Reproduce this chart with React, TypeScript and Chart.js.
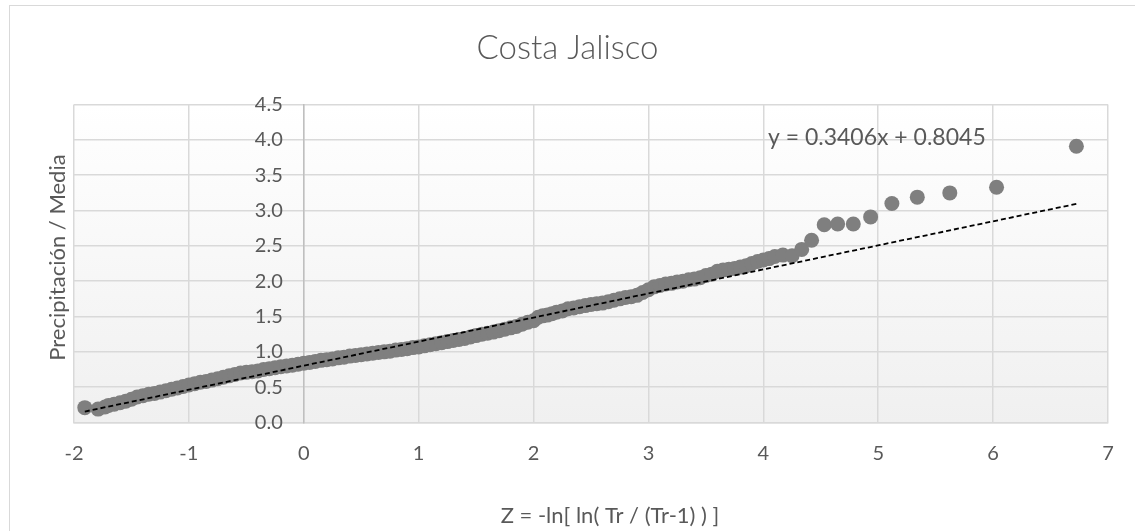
import React, { useEffect, useRef } from "react";
import { Chart, registerables } from "chart.js";

Chart.register(...registerables);

// Gumbel reduced variate (Z) and normalised precipitation (P / mean), sorted ascending
const zValues = [
  -1.906, -1.79, -1.73, -1.7, -1.65, -1.6, -1.55, -1.5, -1.45, -1.4,
  -1.35, -1.3, -1.25, -1.2, -1.15, -1.1, -1.05, -1.0, -0.95, -0.9,
  -0.85, -0.8, -0.75, -0.7, -0.65, -0.6, -0.55, -0.5, -0.45, -0.4,
  -0.35, -0.3, -0.25, -0.2, -0.15, -0.1, -0.05, 0.0, 0.05, 0.1,
  0.15, 0.2, 0.25, 0.3, 0.35, 0.4, 0.45, 0.5, 0.55, 0.6,
  0.65, 0.7, 0.75, 0.8, 0.85, 0.9, 0.95, 1.0, 1.05, 1.1,
  1.15, 1.2, 1.25, 1.3, 1.35, 1.4, 1.45, 1.5, 1.55, 1.6,
  1.65, 1.7, 1.75, 1.8, 1.85, 1.9, 1.95, 2.0, 2.04, 2.08,
  2.12, 2.16, 2.2, 2.25, 2.3, 2.35, 2.4, 2.45, 2.5, 2.55,
  2.6, 2.65, 2.7, 2.75, 2.8, 2.85, 2.9, 2.95, 3.0, 3.05,
  3.1, 3.15, 3.2, 3.25, 3.3, 3.35, 3.4, 3.45, 3.5, 3.55,
  3.6, 3.65, 3.7, 3.75, 3.8, 3.85, 3.9, 3.95, 4.0, 4.05,
  4.1, 4.17, 4.25, 4.334, 4.42, 4.53, 4.647, 4.783, 4.934, 5.119,
  5.34, 5.623, 6.03, 6.725,
];

const ratioValues = [
  0.21, 0.19, 0.22, 0.24, 0.26, 0.28, 0.3, 0.33, 0.36, 0.38,
  0.4, 0.41, 0.43, 0.45, 0.47, 0.49, 0.51, 0.53, 0.55, 0.57,
  0.58, 0.6, 0.62, 0.64, 0.66, 0.68, 0.7, 0.71, 0.72, 0.73,
  0.75, 0.76, 0.775, 0.79, 0.8, 0.81, 0.825, 0.84, 0.85, 0.865,
  0.88, 0.89, 0.9, 0.915, 0.925, 0.94, 0.95, 0.96, 0.97, 0.98,
  0.99, 1.0, 1.01, 1.025, 1.035, 1.045, 1.06, 1.07, 1.085, 1.1,
  1.115, 1.13, 1.145, 1.16, 1.175, 1.19, 1.21, 1.23, 1.25, 1.265,
  1.28, 1.3, 1.32, 1.34, 1.36, 1.39, 1.42, 1.44, 1.49, 1.51,
  1.52, 1.54, 1.56, 1.58, 1.61, 1.62, 1.64, 1.655, 1.67, 1.68,
  1.69, 1.71, 1.73, 1.75, 1.77, 1.78, 1.8, 1.84, 1.88, 1.92,
  1.94, 1.96, 1.97, 1.99, 2.0, 2.02, 2.03, 2.05, 2.08, 2.1,
  2.14, 2.16, 2.17, 2.18, 2.2, 2.22, 2.25, 2.28, 2.3, 2.32,
  2.35, 2.37, 2.36, 2.45, 2.58, 2.8, 2.81, 2.81, 2.91, 3.1,
  3.19, 3.25, 3.33, 3.91,
];

// Linear trendline fitted to the points
const trendSlope = 0.3406;
const trendIntercept = 0.8045;

const chartTitle = "Costa Jalisco";
const xAxisTitle = "Z = -ln[ ln( Tr / (Tr-1) ) ]";
const yAxisTitle = "Precipitación / Media";

const xTickRange = [-2, 7];
const yTickRange = [0, 4.5];
const yTickStep = 0.5;

const FONT = "Lato, 'Open Sans', 'DejaVu Sans', sans-serif";
const TEXT = "#595959";
const MARKER = "#7f7f7f";
const GRID = "#d9d9d9";

const W = 1135;
const H = 531;
const Y_LABEL_GAP = 21;

// White page, soft vertical gradient inside the plot area and the outer frame
const framePlugin = {
  id: "frame",
  beforeDraw(chart: any) {
    const { ctx, chartArea: a } = chart;
    ctx.save();
    ctx.fillStyle = "#ffffff";
    ctx.fillRect(0, 0, W, H);
    const g = ctx.createLinearGradient(0, a.top, 0, a.bottom);
    g.addColorStop(0, "#ffffff");
    g.addColorStop(1, "#f0f0f0");
    ctx.fillStyle = g;
    ctx.fillRect(a.left, a.top, a.right - a.left, a.bottom - a.top);
    ctx.strokeStyle = GRID;
    ctx.lineWidth = 1;
    ctx.strokeRect(9.5, 5.5, W + 20, H + 20);
    ctx.restore();
  },
};

// The value axis sits on Z = 0; keep its labels a little to the left of that line
const yLabelPlugin = {
  id: "yLabelOffset",
  beforeDraw(chart: any) {
    const ys = chart.scales.y;
    const xs = chart.scales.x;
    const items = ys.getLabelItems(chart.chartArea);
    const xPos = xs.getPixelForValue(0) - Y_LABEL_GAP;
    for (const it of items) it.options.translation[0] = xPos;
  },
};

// Axis titles and the trendline equation
const labelsPlugin = {
  id: "labels",
  afterDraw(chart: any) {
    const { ctx, chartArea: a } = chart;
    const xs = chart.scales.x;
    const ys = chart.scales.y;
    ctx.save();
    ctx.fillStyle = TEXT;
    ctx.textBaseline = "middle";

    ctx.font = `22px ${FONT}`;
    ctx.textAlign = "center";
    ctx.fillText(xAxisTitle, (a.left + a.right) / 2 + 19, H - 15);

    ctx.save();
    ctx.translate(58, (a.top + a.bottom) / 2 - 6);
    ctx.rotate(-Math.PI / 2);
    ctx.fillText(yAxisTitle, 0, 0);
    ctx.restore();

    ctx.font = `23px ${FONT}`;
    ctx.textAlign = "left";
    const eq = `y = ${trendSlope.toFixed(4)}x + ${trendIntercept.toFixed(4)}`;
    ctx.fillText(eq, xs.getPixelForValue(4.04), ys.getPixelForValue(4.03));
    ctx.restore();
  },
};

export default function App() {
  const canvasRef = useRef<HTMLCanvasElement | null>(null);

  useEffect(() => {
    const canvas = canvasRef.current;
    if (!canvas) return;

    const points = zValues.map((z, i) => ({ x: z, y: ratioValues[i] }));
    const zMin = Math.min(...zValues);
    const zMax = Math.max(...zValues);
    const trend = [zMin, zMax].map((z) => ({ x: z, y: trendSlope * z + trendIntercept }));

    const chart = new Chart(canvas, {
      type: "scatter",
      data: {
        datasets: [
          {
            label: "Tendencia",
            data: trend,
            showLine: true,
            borderColor: "#000000",
            borderWidth: 1.8,
            borderDash: [5, 3],
            pointRadius: 0,
            fill: false,
            order: 0,
          },
          {
            label: "P / Media",
            data: points,
            backgroundColor: MARKER,
            borderWidth: 0,
            pointRadius: 7.5,
            pointHoverRadius: 7.5,
            order: 1,
          },
        ],
      },
      options: {
        animation: false,
        responsive: false,
        devicePixelRatio: 1,
        layout: { padding: { left: 27, right: 27, top: 0, bottom: 45.5 } },
        plugins: {
          legend: { display: false },
          tooltip: { enabled: false },
          title: {
            display: true,
            text: chartTitle,
            color: TEXT,
            font: { family: FONT, size: 33, weight: "300" },
            padding: { top: 29, bottom: 36 },
          },
        },
        scales: {
          x: {
            type: "linear",
            position: "bottom",
            min: xTickRange[0],
            max: xTickRange[1],
            ticks: {
              stepSize: 1,
              color: TEXT,
              font: { family: FONT, size: 20 },
              padding: 19.5,
              autoSkip: false,
              maxRotation: 0,
            },
            grid: { color: GRID, lineWidth: 1.5, drawTicks: false },
            border: { display: true, color: GRID, width: 1.5 },
          },
          y: {
            type: "linear",
            position: { x: 0 } as any,
            min: yTickRange[0],
            max: yTickRange[1],
            ticks: {
              stepSize: yTickStep,
              color: TEXT,
              font: { family: FONT, size: 20 },
              padding: Y_LABEL_GAP,
              callback: (v: any) => Number(v).toFixed(1),
            },
            grid: { color: GRID, lineWidth: 1.5, drawTicks: false },
            border: { display: true, color: "#bfbfbf", width: 1.5 },
          },
          // empty gutter on the left that holds the rotated axis title
          yGutter: {
            type: "linear",
            position: "left",
            min: yTickRange[0],
            max: yTickRange[1],
            ticks: { display: false },
            grid: { display: false, drawTicks: false },
            border: { display: false },
            afterFit: (s: any) => {
              s.width = 47;
            },
          },
        },
      },
      plugins: [framePlugin, yLabelPlugin, labelsPlugin],
    });

    return () => chart.destroy();
  }, []);

  return (
    <div style={{ position: "fixed", left: 0, top: 0, width: W, height: H, background: "#ffffff" }}>
      <canvas ref={canvasRef} width={W} height={H} style={{ display: "block", width: W, height: H }} />
    </div>
  );
}
